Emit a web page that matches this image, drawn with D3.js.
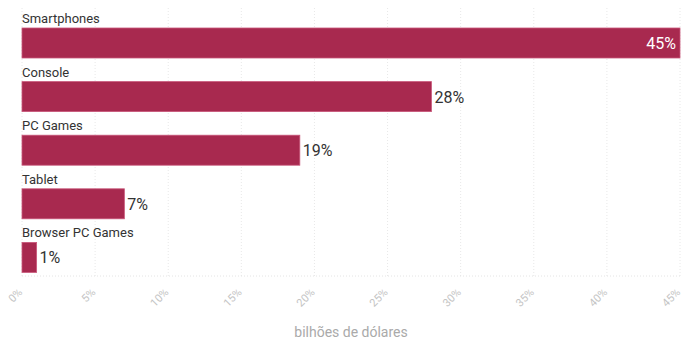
<!DOCTYPE html>
<html><head><meta charset="utf-8">
<script src="https://cdn.jsdelivr.net/npm/d3@7/dist/d3.min.js"></script>
<style>body{margin:0;background:#fff;font-family:Roboto,"DejaVu Sans",sans-serif;}</style>
</head><body><svg id="c" width="684" height="340"></svg>
<script>
const categories = ["Smartphones","Console","PC Games","Tablet","Browser PC Games"];
const values = [45,28,19,7,1];
const ticks = [0,5,10,15,20,25,30,35,40,45];
const axisTitle = "bilhões de dólares";

const svg = d3.select("#c");
const x = d3.scaleLinear().domain([0,45]).range([22,680]);
const y = d3.scaleBand().domain(categories).range([28,296]).paddingInner(0).paddingOuter(0);
const barH = 30;

// grid
svg.append("g").selectAll("line").data(ticks).join("line")
  .attr("x1",d=>x(d)).attr("x2",d=>x(d)).attr("y1",8).attr("y2",276)
  .attr("stroke","#e8e8e8").attr("stroke-dasharray","1,2");
svg.append("line").attr("x1",x(0)).attr("x2",x(45)).attr("y1",276).attr("y2",276)
  .attr("stroke","#e4e4e4").attr("stroke-dasharray","1,2");

const g = svg.append("g");
categories.forEach((c,i)=>{
  const yy = y(c);
  g.append("text").attr("x",x(0)).attr("y",yy-5).text(c)
    .attr("font-size",13).attr("fill","#333");
  g.append("rect").attr("x",x(0)).attr("y",yy).attr("width",x(values[i])-x(0)).attr("height",barH)
    .attr("fill","#a8294f").attr("stroke","#c9577a").attr("stroke-width",0.8);
  const inside = values[i] >= 40;
  g.append("text").attr("x", inside ? x(values[i])-4 : x(values[i])+3).attr("y",yy+barH/2+6)
    .attr("text-anchor", inside ? "end":"start")
    .attr("font-size",16).attr("fill", inside ? "#fff" : "#333").text(values[i]+"%");
});

// tick labels
svg.append("g").selectAll("text").data(ticks).join("text")
  .attr("transform",d=>`translate(${x(d)+1},${293}) rotate(-45)`)
  .attr("text-anchor","end").attr("font-size",11).attr("fill","#c4c4c4")
  .text(d=>d+"%");

svg.append("text").attr("x",351).attr("y",337).attr("text-anchor","middle")
  .attr("font-size",14).attr("fill","#aaa").text(axisTitle);
</script></body></html>
